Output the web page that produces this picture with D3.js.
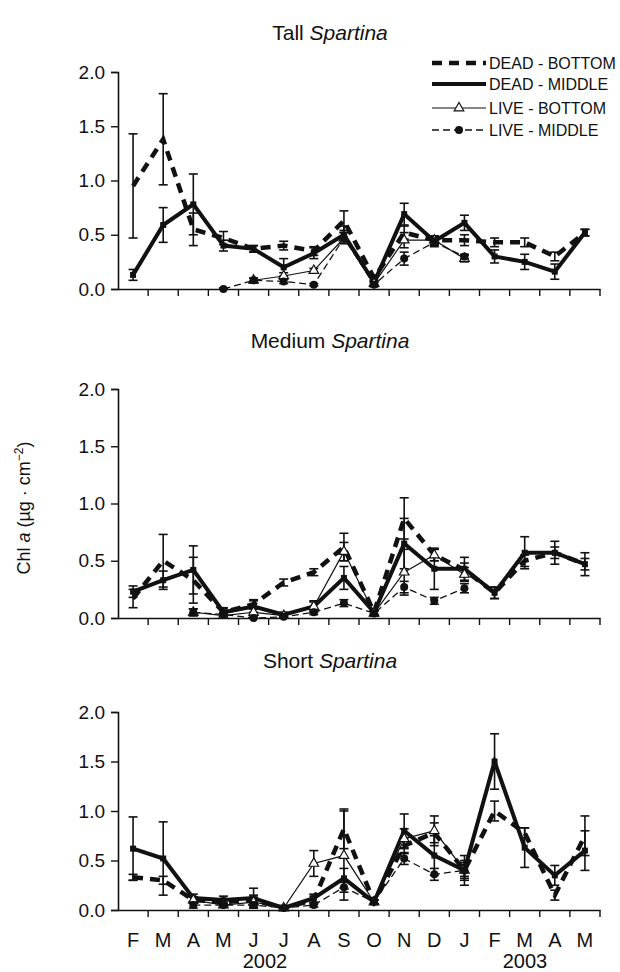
<!DOCTYPE html>
<html><head><meta charset="utf-8">
<script src="https://cdn.jsdelivr.net/npm/d3@7"></script>
<style>body{margin:0;background:#fff}svg{display:block;font-family:"Liberation Sans",Arial,sans-serif}</style>
</head><body><svg id="c" width="620" height="972"></svg>
<script>
const months = ["F","M","A","M","J","J","A","S","O","N","D","J","F","M","A","M"];
const yTicks = [0, 0.5, 1.0, 1.5, 2.0];
const seriesNames = ["DEAD - BOTTOM","DEAD - MIDDLE","LIVE - BOTTOM","LIVE - MIDDLE"];
const panelTitles = ["Tall","Medium","Short"];

// Tall Spartina
const tallDB  = [0.95,1.38,0.55,0.47,0.37,0.40,0.35,0.63,0.10,0.52,0.45,0.45,0.43,0.43,0.30,0.52];
const tallDBe = [0.48,0.42,0.15,0.06,0.03,0.04,0.04,0.09,0.03,0.06,0.04,0.05,0.04,0.04,0.04,0.03];
const tallDM  = [0.13,0.59,0.78,0.40,0.37,0.20,0.33,0.50,0.06,0.69,0.44,0.61,0.30,0.25,0.16,0.52];
const tallDMe = [0.05,0.16,0.28,0.05,0.03,0.08,0.05,0.08,0.02,0.10,0.04,0.07,0.06,0.07,0.07,0.03];
const tallLB  = [null,null,null,null,0.08,0.12,0.17,0.47,0.05,0.45,0.45,0.28,null,null,null,null];
const tallLBe = [null,null,null,null,0.02,0.03,0.02,0.05,0.02,0.07,0.04,0.03,null,null,null,null];
const tallLM  = [null,null,null,0.00,0.08,0.07,0.04,0.47,0.04,0.28,0.43,0.30,null,null,null,null];
const tallLMe = [null,null,null,0.01,0.02,0.02,0.01,0.05,0.02,0.06,0.04,0.02,null,null,null,null];

// Medium Spartina
const medDB  = [0.17,0.50,0.33,0.05,0.12,0.31,0.40,0.62,0.05,0.87,0.55,0.42,0.22,0.50,0.57,0.47];
const medDBe = [0.08,0.23,0.20,0.03,0.04,0.03,0.03,0.12,0.02,0.18,0.05,0.06,0.05,0.05,0.05,0.05];
const medDM  = [0.23,0.33,0.42,0.05,0.10,0.03,0.10,0.35,0.05,0.65,0.43,0.43,0.22,0.57,0.57,0.47];
const medDMe = [0.05,0.08,0.21,0.04,0.05,0.02,0.05,0.10,0.02,0.22,0.18,0.10,0.05,0.14,0.10,0.10];
const medLB  = [null,null,0.05,0.02,0.05,0.02,0.10,0.58,0.04,0.40,0.55,0.38,null,null,null,null];
const medLBe = [null,null,0.03,0.02,0.03,0.02,0.04,0.08,0.02,0.20,0.05,0.06,null,null,null,null];
const medLM  = [null,null,0.05,0.03,0.00,0.01,0.05,0.13,0.04,0.27,0.15,0.26,null,null,null,null];
const medLMe = [null,null,0.03,0.02,0.02,0.01,0.02,0.03,0.02,0.05,0.03,0.04,null,null,null,null];

// Short Spartina
const shortDB  = [0.33,0.30,0.10,0.08,0.10,0.02,0.10,0.82,0.08,0.65,0.78,0.40,1.00,0.78,0.15,0.75];
const shortDBe = [0.03,0.04,0.03,0.03,0.05,0.02,0.04,0.20,0.02,0.08,0.10,0.08,0.10,0.05,0.05,0.20];
const shortDM  = [0.62,0.52,0.12,0.10,0.12,0.02,0.12,0.32,0.08,0.80,0.55,0.40,1.50,0.63,0.35,0.60];
const shortDMe = [0.32,0.37,0.04,0.04,0.10,0.02,0.04,0.10,0.02,0.17,0.20,0.15,0.28,0.20,0.10,0.20];
const shortLB  = [null,null,0.10,0.05,0.08,0.02,0.47,0.55,0.08,0.72,0.80,0.40,null,null,null,null];
const shortLBe = [null,null,0.03,0.02,0.05,0.02,0.13,0.45,0.02,0.10,0.15,0.10,null,null,null,null];
const shortLM  = [null,null,0.05,0.05,0.05,0.02,0.05,0.23,0.08,0.52,0.36,0.40,null,null,null,null];
const shortLMe = [null,null,0.03,0.02,0.03,0.01,0.02,0.05,0.02,0.06,0.06,0.06,null,null,null,null];

const panelData = [
  [[tallDB,tallDBe],[tallDM,tallDMe],[tallLB,tallLBe],[tallLM,tallLMe]],
  [[medDB,medDBe],[medDM,medDMe],[medLB,medLBe],[medLM,medLMe]],
  [[shortDB,shortDBe],[shortDM,shortDMe],[shortLB,shortLBe],[shortLM,shortLMe]]
];

const layout = [
  {top:72, bottom:289, titleY:40},
  {top:389, bottom:618, titleY:348},
  {top:712, bottom:910, titleY:668}
];
const styles = [
  {w:4.5, dash:"10,7", marker:"none"},
  {w:4, dash:null, marker:"none"},
  {w:1.2, dash:null, marker:"tri"},
  {w:1.3, dash:"7,4", marker:"circle"}
];

const svg = d3.select("#c");
const x = d3.scaleBand().domain(d3.range(months.length)).range([118, 600]);

layout.forEach((L, pi) => {
  const y = d3.scaleLinear().domain([0, 2]).range([L.bottom, L.top]);
  const g = svg.append("g");
  // title
  const t = g.append("text").attr("x", 330).attr("y", L.titleY).attr("text-anchor","middle")
    .attr("font-size", 21).attr("fill","#111");
  t.append("tspan").text(panelTitles[pi] + " ");
  t.append("tspan").attr("font-style","italic").text("Spartina");

  // y axis
  const ya = g.append("g").attr("transform", `translate(118,0)`)
    .call(d3.axisLeft(y).tickValues(yTicks).tickFormat(d3.format(".1f")).tickSize(7).tickPadding(6));
  ya.select(".domain").attr("stroke-width",1.6).attr("stroke","#111");
  ya.selectAll(".tick line").attr("stroke-width",1.4).attr("stroke","#111");
  ya.selectAll("text").attr("font-size",19).attr("fill","#111").attr("font-family","Liberation Sans, Arial, sans-serif");

  // x axis
  const xa = g.append("g").attr("transform", `translate(0,${L.bottom})`)
    .call(d3.axisBottom(x).tickSize(0).tickFormat(""));
  xa.select(".domain").attr("stroke-width",1.6).attr("stroke","#111");
  const edges = d3.range(1, months.length).map(i => x(i)).concat([x.range()[1]]);
  g.append("g").selectAll("line").data(edges).join("line")
    .attr("x1", d => d).attr("x2", d => d).attr("y1", L.bottom).attr("y2", L.bottom + 7)
    .attr("stroke","#111").attr("stroke-width",1.4);
  if (pi === 2) {
    g.append("g").selectAll("text").data(months).join("text")
      .attr("x", (d,i) => x(i) + x.bandwidth()/2).attr("y", 947)
      .attr("text-anchor","middle").attr("font-size",20).attr("fill","#111").text(d => d);
  }

  // series
  const cx = i => x(i) + x.bandwidth()/2;
  panelData[pi].forEach((pair, si) => {
    const [vals, errs] = pair;
    const st = styles[si];
    const pts = vals.map((v,i) => ({i, v, e: errs[i]}));
    const eb = g.append("g").attr("stroke","#111").attr("stroke-width",1.6);
    pts.filter(p => p.v !== null && p.e).forEach(p => {
      const y1 = y(p.v + p.e), y2 = y(Math.max(0, p.v - p.e));
      eb.append("line").attr("x1",cx(p.i)).attr("x2",cx(p.i)).attr("y1",y1).attr("y2",y2);
      eb.append("line").attr("x1",cx(p.i)-4.5).attr("x2",cx(p.i)+4.5).attr("y1",y1).attr("y2",y1);
      eb.append("line").attr("x1",cx(p.i)-4.5).attr("x2",cx(p.i)+4.5).attr("y1",y2).attr("y2",y2);
    });
    const line = d3.line().defined(p => p.v !== null).x(p => cx(p.i)).y(p => y(p.v));
    g.append("path").datum(pts).attr("d", line).attr("fill","none").attr("stroke","#111")
      .attr("stroke-width", st.w).attr("stroke-dasharray", st.dash);
    const valid = pts.filter(p => p.v !== null);
    if (st.marker === "tri") {
      g.append("g").selectAll("path").data(valid).join("path")
        .attr("d", d3.symbol(d3.symbolTriangle, 40))
        .attr("transform", p => `translate(${cx(p.i)},${y(p.v)})`)
        .attr("fill","#fff").attr("stroke","#111").attr("stroke-width",1.2);
    } else if (st.marker === "circle") {
      g.append("g").selectAll("circle").data(valid).join("circle")
        .attr("cx", p => cx(p.i)).attr("cy", p => y(p.v)).attr("r", 4).attr("fill","#111");
    } else if (si === 1) {
      g.append("g").selectAll("rect").data(valid).join("rect")
        .attr("x", p => cx(p.i)-3).attr("y", p => y(p.v)-3).attr("width",6).attr("height",6).attr("fill","#111");
    }
  });
});

// year labels
svg.append("text").attr("x",265).attr("y",968).attr("text-anchor","middle").attr("font-size",20).attr("fill","#111").text("2002");
svg.append("text").attr("x",525).attr("y",968).attr("text-anchor","middle").attr("font-size",20).attr("fill","#111").text("2003");

// y label
const yl = svg.append("text").attr("transform","translate(30,508) rotate(-90)").attr("text-anchor","middle")
  .attr("font-size",18).attr("fill","#111");
yl.append("tspan").text("Chl ");
yl.append("tspan").attr("font-style","italic").text("a");
yl.append("tspan").text(" (µg · cm");
yl.append("tspan").attr("font-size",12).attr("dy",-7).text("−2");
yl.append("tspan").attr("dy",7).text(")");

// legend
const legRows = [63, 84, 108, 130];
const leg = svg.append("g");
seriesNames.forEach((name, si) => {
  const st = styles[si], yy = legRows[si];
  leg.append("line").attr("x1",432).attr("x2",486).attr("y1",yy).attr("y2",yy)
    .attr("stroke","#111").attr("stroke-width",st.w).attr("stroke-dasharray",st.dash);
  if (st.marker === "tri") {
    leg.append("path").attr("d", d3.symbol(d3.symbolTriangle, 40)).attr("transform",`translate(459,${yy})`)
      .attr("fill","#fff").attr("stroke","#111").attr("stroke-width",1.2);
  } else if (st.marker === "circle") {
    leg.append("circle").attr("cx",459).attr("cy",yy).attr("r",4).attr("fill","#111");
  }
  leg.append("text").attr("x",489).attr("y",yy+6).attr("font-size",16).attr("fill","#111").text(name);
});
</script></body></html>
